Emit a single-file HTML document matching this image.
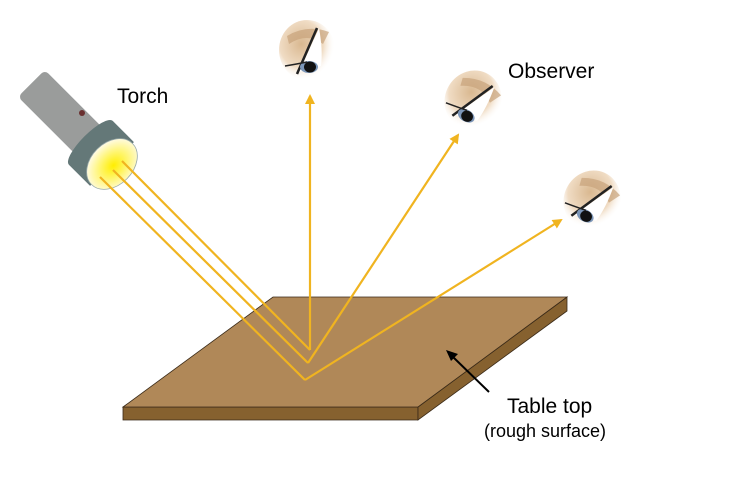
<!DOCTYPE html>
<html><head><style>body{margin:0;background:#fff}svg{display:block}</style></head><body>
<svg width="750" height="500" viewBox="0 0 750 500" xmlns="http://www.w3.org/2000/svg" font-family="Liberation Sans, Arial, sans-serif">
<defs>
<radialGradient id="lens" cx="0.45" cy="0.5" r="0.55"><stop offset="0" stop-color="#ffee00"/><stop offset="0.45" stop-color="#fff566"/><stop offset="1" stop-color="#fffbe8"/></radialGradient>
<radialGradient id="skin" cx="0.4" cy="0.4" r="0.6"><stop offset="0" stop-color="#d9b890"/><stop offset="0.65" stop-color="#f0dcc4"/><stop offset="1" stop-color="#fff" stop-opacity="0"/></radialGradient>
<marker id="ah" markerWidth="10" markerHeight="10" refX="8" refY="5" orient="auto" markerUnits="userSpaceOnUse"><path d="M0,0 L10,5 L0,10 Z" fill="#f0b420"/></marker>
<g id="eye">
<ellipse cx="0" cy="0" rx="28" ry="30" fill="url(#skin)"/>
<path d="M-20,-14 Q0,-26 22,-18 L16,-6 Q0,-18 -18,-6 Z" fill="#c8a27a" opacity="0.7"/>
<path d="M-8,22 L12,-22 Q16,0 14,16 Z" fill="#fff"/>
<path d="M-10,24 L10,-22" stroke="#222" stroke-width="2.5"/>
<ellipse cx="2" cy="17" rx="9" ry="6" fill="#7c96b8"/>
<ellipse cx="3" cy="17" rx="6" ry="5.5" fill="#111"/>
<path d="M-22,16 Q-10,14 0,12" stroke="#222" stroke-width="1.5" fill="none"/>
</g>
</defs>
<!-- torch -->
<g transform="translate(112,164) rotate(225)">
<rect x="8" y="-19" width="106" height="38" rx="5" fill="#9a9c9b"/>
<rect x="0" y="-31" width="30" height="62" fill="#647878"/>
<ellipse cx="30" cy="0" rx="9" ry="31" fill="#647878"/>
<ellipse cx="0" cy="0" rx="21" ry="29" fill="url(#lens)" stroke="#9aa" stroke-width="0.8"/>
</g>
<circle cx="82" cy="113" r="3" fill="#6a3030"/>
<text x="117" y="103" font-size="21">Torch</text>
<!-- table -->
<polygon points="123,407 418,407 418,420 123,420" fill="#86612f" stroke="#3a2a18" stroke-width="0.8"/>
<polygon points="418,407 567,297 567,311 418,420" fill="#86612f" stroke="#3a2a18" stroke-width="0.8"/>
<polygon points="123,407 273,297 567,297 418,407" fill="#b08858" stroke="#3a2a18" stroke-width="0.8"/>
<!-- beams -->
<g stroke="#f0b420" stroke-width="2.2" fill="none">
<polyline points="100,177 305,380"/>
<polyline points="113,170 308,363"/>
<polyline points="122,161 310,350"/>
<line x1="310" y1="350" x2="310" y2="96" marker-end="url(#ah)"/>
<line x1="308" y1="363" x2="458" y2="135" marker-end="url(#ah)"/>
<line x1="305" y1="380" x2="561" y2="220" marker-end="url(#ah)"/>
</g>
<!-- arrow -->
<line x1="489" y1="392" x2="452" y2="356" stroke="#000" stroke-width="2"/>
<path d="M446,350 L458,354 L451,361 Z" fill="#000"/>
<!-- eyes -->
<use href="#eye" transform="translate(307,50)"/>
<use href="#eye" transform="translate(473,100) rotate(30)"/>
<use href="#eye" transform="translate(592,200) rotate(30)"/>
<text x="508" y="78" font-size="21">Observer</text>
<text x="507" y="413" font-size="21">Table top</text>
<text x="484" y="437" font-size="18">(rough surface)</text>
</svg>
</body></html>
